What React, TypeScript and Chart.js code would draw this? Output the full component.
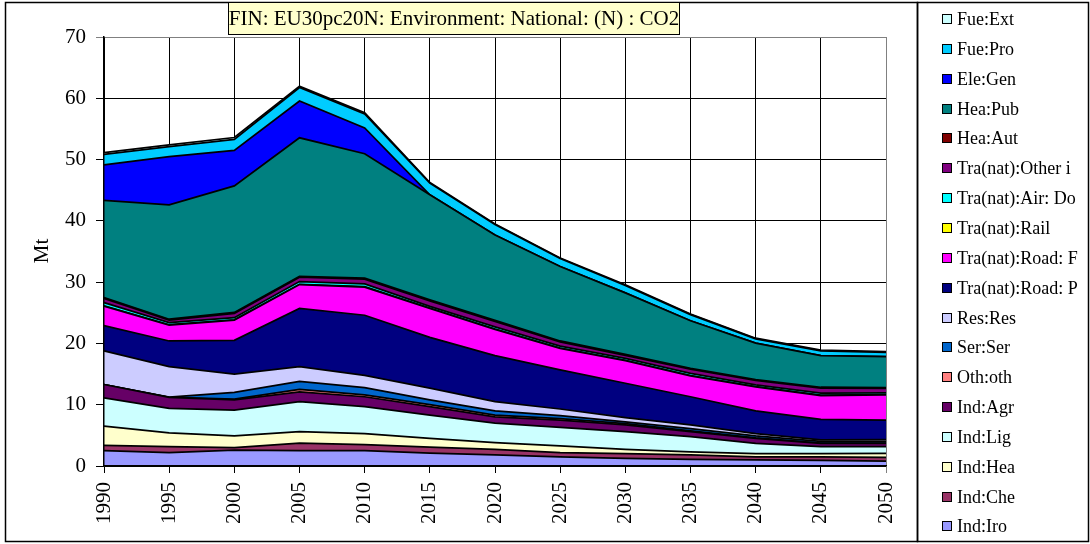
import React, { useEffect, useRef } from "react";
import { Chart, registerables } from "chart.js";

Chart.register(...registerables);

const years = ["1990", "1995", "2000", "2005", "2010", "2015", "2020", "2025", "2030", "2035", "2040", "2045", "2050"];

const indIro = [2.5, 2.2, 2.6, 2.5, 2.5, 2.1, 1.8, 1.5, 1.25, 1.1, 1.0, 0.9, 0.8];
const indChe = [0.85, 0.95, 0.4, 1.25, 1.0, 1.0, 0.9, 0.7, 0.75, 0.7, 0.5, 0.6, 0.6];
const indHea = [3.15, 2.25, 1.9, 1.85, 1.8, 1.4, 1.1, 1.1, 0.7, 0.5, 0.5, 0.5, 0.65];
const indLig = [4.6, 4.0, 4.2, 4.9, 4.4, 3.8, 3.2, 3.0, 2.9, 2.5, 1.7, 1.15, 1.1];
const indAgr = [2.2, 1.8, 1.7, 1.6, 1.6, 1.4, 1.0, 1.2, 1.1, 0.8, 0.8, 0.55, 0.55];
const othOth = [0, 0, 0.1, 0.4, 0.3, 0.3, 0.3, 0.25, 0.2, 0.15, 0.1, 0.05, 0.05];
const serSer = [0, 0.05, 1.1, 1.3, 1.2, 0.8, 0.7, 0.45, 0.3, 0.35, 0.3, 0.25, 0.25];
const resRes = [5.5, 4.95, 3.0, 2.4, 2.0, 1.9, 1.5, 1.1, 0.7, 0.6, 0.4, 0.25, 0.3];
const roadP = [4.1, 4.2, 5.5, 9.5, 9.8, 8.3, 7.5, 6.4, 5.6, 4.6, 3.7, 3.35, 3.2];
const roadF = [3.2, 2.6, 3.3, 3.9, 4.6, 4.7, 4.3, 3.5, 3.7, 3.4, 3.9, 3.9, 4.1];
const rail = [0.05, 0.05, 0.05, 0.05, 0.05, 0.05, 0.05, 0.05, 0.05, 0.05, 0.05, 0.05, 0.05];
const airDo = [0.5, 0.35, 0.35, 0.45, 0.45, 0.3, 0.35, 0.3, 0.3, 0.35, 0.3, 0.35, 0.3];
const otherI = [0.7, 0.4, 0.7, 0.7, 0.8, 0.9, 0.9, 0.7, 0.5, 0.7, 0.7, 0.8, 0.7];
const heaAut = [0.15, 0.15, 0.15, 0.15, 0.15, 0.15, 0.15, 0.15, 0.15, 0.15, 0.15, 0.15, 0.15];
const heaPub = [15.85, 18.65, 20.65, 22.6, 20.3, 17.15, 13.95, 12.15, 10.05, 7.75, 5.95, 5.15, 5.05];
const eleGen = [5.8, 7.9, 5.8, 6.0, 4.2, 0, 0, 0, 0, 0, 0, 0, 0];
const fuePro = [1.7, 1.6, 1.8, 2.2, 2.3, 1.9, 1.7, 1.3, 1.2, 1.0, 0.7, 0.8, 0.7];
const fueExt = [0.3, 0.3, 0.3, 0.2, 0.2, 0.1, 0.1, 0.1, 0.1, 0.1, 0.1, 0.1, 0.1];

const seriesNames = [
  "Ind:Iro", "Ind:Che", "Ind:Hea", "Ind:Lig", "Ind:Agr", "Oth:oth", "Ser:Ser", "Res:Res",
  "Tra(nat):Road: P", "Tra(nat):Road: F", "Tra(nat):Rail", "Tra(nat):Air: Do", "Tra(nat):Other i",
  "Hea:Aut", "Hea:Pub", "Ele:Gen", "Fue:Pro", "Fue:Ext",
];
const seriesValues = [
  indIro, indChe, indHea, indLig, indAgr, othOth, serSer, resRes,
  roadP, roadF, rail, airDo, otherI, heaAut, heaPub, eleGen, fuePro, fueExt,
];
const seriesColors = [
  "#9999FF", "#993366", "#FFFFCC", "#CCFFFF", "#660066", "#FF8080", "#0066CC", "#CCCCFF",
  "#000080", "#FF00FF", "#FFFF00", "#00FFFF", "#800080", "#800000", "#008080", "#0000FF", "#00CCFF", "#CCFFFF",
];

const titleText = "FIN: EU30pc20N: Environment: National: (N) : CO2";
const yAxisTitle = "Mt";
const FONT = '"Liberation Serif", "Times New Roman", serif';

const decorPlugin = {
  id: "decor",
  beforeDraw(chart: any) {
    const ctx = chart.ctx;
    ctx.save();
    ctx.fillStyle = "#ffffff";
    ctx.fillRect(0, 0, chart.width, chart.height);
    ctx.restore();
  },
  afterDraw(chart: any) {
    const ctx = chart.ctx;
    ctx.save();
    ctx.strokeStyle = "#000";
    ctx.lineWidth = 1.5;
    ctx.strokeRect(5.5, 2.5, 912, 539);
    ctx.strokeRect(917.5, 2.5, 171, 539);
    ctx.fillStyle = "#FFFFCC";
    ctx.fillRect(228.5, 2.5, 451, 32);
    ctx.lineWidth = 1;
    ctx.strokeRect(228.5, 2.5, 451, 32);
    ctx.fillStyle = "#000";
    ctx.font = `21px ${FONT}`;
    ctx.textAlign = "center";
    ctx.textBaseline = "middle";
    ctx.fillText(titleText, 454, 19);
    ctx.save();
    ctx.translate(42, 251);
    ctx.rotate(-Math.PI / 2);
    ctx.font = `21px ${FONT}`;
    ctx.fillText(yAxisTitle, 0, 0);
    ctx.restore();
    const ds = chart.data.datasets;
    ctx.textAlign = "left";
    ctx.font = `18px ${FONT}`;
    for (let i = 0; i < ds.length; i++) {
      const d = ds[ds.length - 1 - i];
      const y = Math.round(19 + i * 29.85);
      ctx.fillStyle = d.backgroundColor;
      ctx.fillRect(942.5, y - 4.5, 9, 9);
      ctx.strokeStyle = "#000";
      ctx.lineWidth = 1;
      ctx.strokeRect(942.5, y - 4.5, 9, 9);
      ctx.fillStyle = "#000";
      ctx.fillText(d.label, 957, y + 1);
    }
    ctx.restore();
  },
};

export default function App() {
  const ref = useRef<HTMLCanvasElement | null>(null);
  useEffect(() => {
    if (!ref.current) return;
    const chart = new Chart(ref.current, {
      type: "line",
      data: {
        labels: years,
        datasets: seriesNames.map((name, i) => ({
          label: name,
          data: seriesValues[i],
          backgroundColor: seriesColors[i],
          borderColor: "#000",
          borderWidth: 1.75,
          pointRadius: 0,
          tension: 0,
          fill: i === 0 ? "origin" : "-1",
        })),
      },
      options: {
        animation: false,
        responsive: false,
        devicePixelRatio: 1,
        layout: { padding: { left: 0, right: 204, top: 37, bottom: 0 } },
        plugins: { legend: { display: false }, tooltip: { enabled: false }, title: { display: false } },
        scales: {
          x: {
            offset: false,
            afterFit(s: any) { s.height = 78; },
            grid: {
              color: (c: any) => (c.index === years.length - 1 ? "#808080" : "#000"),
              lineWidth: 1,
              tickLength: 7,
            },
            border: { color: "#000", width: 1.5, z: 1 },
            ticks: {
              color: "#000",
              font: { family: FONT, size: 21 },
              minRotation: 90,
              maxRotation: 90,
              padding: 9,
              autoSkip: false,
            },
          },
          y: {
            stacked: true,
            min: 0,
            max: 70,
            afterFit(s: any) { s.width = 104; },
            grid: {
              color: (c: any) => (c.tick && c.tick.value === 70 ? "#808080" : "#000"),
              lineWidth: 1,
              tickLength: 8,
            },
            border: { color: "#000", width: 1.5, z: 1 },
            ticks: {
              color: "#000",
              stepSize: 10,
              font: { family: FONT, size: 21 },
              padding: 10,
            },
          },
        },
      },
      plugins: [decorPlugin],
    });
    return () => chart.destroy();
  }, []);
  return (
    <div style={{ position: "absolute", left: 0, top: 0, width: 1090, height: 544 }}>
      <canvas ref={ref} width={1090} height={544} style={{ width: 1090, height: 544, display: "block" }} />
    </div>
  );
}
